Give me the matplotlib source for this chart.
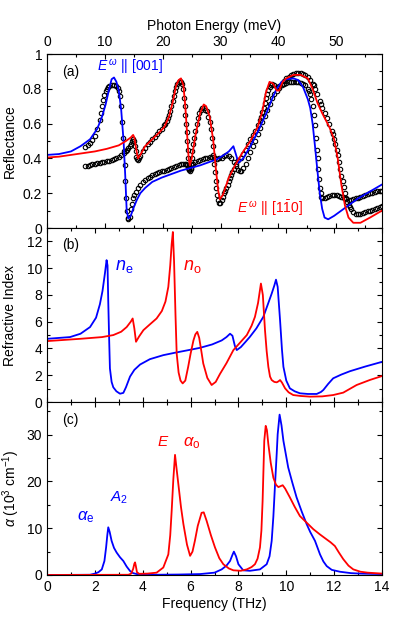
import numpy as np
import matplotlib
matplotlib.use('Agg')
import matplotlib.pyplot as plt
from matplotlib.ticker import MultipleLocator, FixedLocator

MEV_PER_THZ = 4.1357
BLUE = '#0000ff'
RED = '#ff0000'

# (a) reflectance fits, (THz, R)
fit_e_f = [0.0, 0.5, 1.0, 1.4, 1.8, 2.1, 2.3, 2.45, 2.6, 2.7, 2.8, 2.9, 3.0, 3.1, 3.2, 3.27, 3.33, 3.4,
           3.5, 3.6, 3.75, 3.9, 4.1, 4.4, 4.8, 5.2, 5.6, 6.0, 6.4, 6.8, 7.1, 7.4, 7.6, 7.79, 7.88, 8.0,
           8.2, 8.5, 8.8, 9.0, 9.2, 9.4, 9.6, 9.8, 10.0, 10.3, 10.5, 10.7, 10.9, 11.0, 11.1, 11.2, 11.3,
           11.4, 11.5, 11.6, 11.75, 12.0, 12.3, 12.7, 13.0, 13.5, 14.0]
fit_e_r = [0.42, 0.425, 0.44, 0.47, 0.51, 0.57, 0.64, 0.71, 0.80, 0.855, 0.865, 0.84, 0.79, 0.68, 0.50,
           0.30, 0.10, 0.055, 0.07, 0.11, 0.16, 0.20, 0.23, 0.265, 0.29, 0.31, 0.33, 0.345, 0.36, 0.38,
           0.395, 0.42, 0.44, 0.47, 0.43, 0.375, 0.40, 0.47, 0.55, 0.61, 0.67, 0.74, 0.80, 0.84, 0.855,
           0.86, 0.85, 0.81, 0.74, 0.69, 0.60, 0.47, 0.33, 0.20, 0.11, 0.06, 0.05, 0.07, 0.10, 0.14, 0.17,
           0.21, 0.25]

fit_o_f = [0.0, 0.5, 1.0, 1.5, 2.0, 2.5, 3.0, 3.3, 3.5, 3.6, 3.65, 3.72, 3.8, 3.9, 4.1, 4.4, 4.7, 4.9,
           5.1, 5.25, 5.4, 5.5, 5.6, 5.7, 5.78, 5.85, 5.92, 5.97, 6.05, 6.2, 6.4, 6.55, 6.65, 6.8, 6.95,
           7.05, 7.15, 7.22, 7.35, 7.6, 7.9, 8.2, 8.5, 8.8, 9.0, 9.15, 9.3, 9.45, 9.6, 9.7, 9.85, 10.0,
           10.3, 10.6, 10.9, 11.1, 11.3, 11.5, 11.8, 12.0, 12.15, 12.3, 12.45, 12.6, 12.8, 13.1, 13.5, 14.0]
fit_o_r = [0.405, 0.41, 0.42, 0.43, 0.44, 0.455, 0.475, 0.50, 0.52, 0.535, 0.52, 0.46, 0.40, 0.42,
           0.47, 0.51, 0.55, 0.58, 0.64, 0.72, 0.82, 0.85, 0.86, 0.82, 0.70, 0.55, 0.40, 0.36, 0.40,
           0.53, 0.66, 0.71, 0.70, 0.64, 0.50, 0.35, 0.22, 0.165, 0.19, 0.29, 0.37, 0.44, 0.50, 0.58,
           0.67, 0.78, 0.84, 0.83, 0.79, 0.79, 0.84, 0.86, 0.88, 0.88, 0.86, 0.80, 0.72, 0.66, 0.58,
           0.51, 0.40, 0.25, 0.13, 0.06, 0.03, 0.03, 0.06, 0.10]

# (a) measured reflectance, E || [001]
meas_e_f = [1.6, 1.7, 1.8, 1.9, 2.0, 2.1, 2.2, 2.25, 2.3, 2.35, 2.4, 2.45, 2.5, 2.55, 2.6, 2.7, 2.8,
            2.9, 2.95, 3.0, 3.05, 3.1, 3.15, 3.19, 3.22, 3.25, 3.28, 3.31, 3.34, 3.37, 3.4, 3.45, 3.5,
            3.55, 3.6, 3.65, 3.7, 3.8, 3.9, 4.0, 4.1, 4.2, 4.3, 4.4, 4.5, 4.6, 4.7, 4.8, 4.9, 5.0, 5.1,
            5.2, 5.3, 5.4, 5.5, 5.6, 5.7, 5.75, 5.8, 5.85, 5.9, 5.95, 6.0, 6.05, 6.1, 6.2, 6.3, 6.4,
            6.5, 6.6, 6.7, 6.8, 6.9, 7.0, 7.1, 7.2, 7.3, 7.4, 7.5, 7.6, 7.7, 7.8, 7.9, 8.0, 8.05, 8.1,
            8.2, 8.3, 8.4, 8.5, 8.6, 8.7, 8.8, 8.9, 9.0, 9.1, 9.2, 9.3, 9.4, 9.5, 9.6, 9.7, 9.8, 9.9,
            10.0, 10.1, 10.2, 10.3, 10.4, 10.5, 10.6, 10.7, 10.8, 10.9, 10.95, 11.0, 11.05, 11.1, 11.15,
            11.2, 11.24, 11.28, 11.31, 11.34, 11.37, 11.4, 11.43, 11.47, 11.5, 11.6, 11.7, 11.8, 11.9,
            12.0, 12.1, 12.2, 12.3, 12.4, 12.5, 12.6, 12.7, 12.8, 12.9, 13.0, 13.1, 13.2, 13.3, 13.4,
            13.5, 13.6, 13.7, 13.8, 13.9, 14.0]
meas_e_r = [0.465, 0.475, 0.49, 0.505, 0.53, 0.57, 0.62, 0.66, 0.70, 0.735, 0.765, 0.785, 0.80,
            0.81, 0.815, 0.82, 0.82, 0.815, 0.805, 0.79, 0.76, 0.70, 0.61, 0.52, 0.44, 0.36, 0.27, 0.17,
            0.10, 0.06, 0.05, 0.065, 0.11, 0.14, 0.17, 0.19, 0.205, 0.23, 0.25, 0.265, 0.275, 0.285,
            0.295, 0.305, 0.31, 0.315, 0.32, 0.325, 0.33, 0.335, 0.34, 0.345, 0.35, 0.355, 0.36, 0.365,
            0.37, 0.37, 0.365, 0.36, 0.345, 0.335, 0.345, 0.36, 0.37, 0.38, 0.385, 0.39, 0.395, 0.40,
            0.405, 0.41, 0.41, 0.40, 0.395, 0.40, 0.405, 0.415, 0.42, 0.415, 0.40, 0.38, 0.355, 0.335,
            0.33, 0.33, 0.345, 0.37, 0.40, 0.435, 0.47, 0.50, 0.54, 0.575, 0.61, 0.645, 0.68, 0.715,
            0.745, 0.77, 0.79, 0.805, 0.82, 0.83, 0.835, 0.84, 0.84, 0.84, 0.84, 0.84, 0.835, 0.83,
            0.82, 0.80, 0.79, 0.77, 0.74, 0.70, 0.65, 0.59, 0.52, 0.45, 0.40, 0.34, 0.28, 0.23, 0.20,
            0.18, 0.175, 0.175, 0.18, 0.185, 0.19, 0.19, 0.19, 0.185, 0.18, 0.17, 0.165, 0.16, 0.16,
            0.165, 0.17, 0.175, 0.18, 0.185, 0.19, 0.195, 0.20, 0.20, 0.205, 0.21, 0.21, 0.215]

# (a) measured reflectance, E || [1-10]
meas_o_f = [1.6, 1.7, 1.8, 1.9, 2.0, 2.1, 2.2, 2.3, 2.4, 2.5, 2.6, 2.7, 2.8, 2.9, 3.0, 3.1, 3.2, 3.3,
            3.35, 3.4, 3.45, 3.5, 3.55, 3.6, 3.64, 3.68, 3.71, 3.74, 3.77, 3.8, 3.85, 3.9, 4.0, 4.1,
            4.2, 4.3, 4.4, 4.5, 4.6, 4.7, 4.8, 4.9, 4.95, 5.0, 5.05, 5.1, 5.15, 5.2, 5.25, 5.3, 5.35,
            5.4, 5.45, 5.5, 5.55, 5.6, 5.64, 5.68, 5.72, 5.75, 5.78, 5.8, 5.83, 5.85, 5.88, 5.9, 5.93,
            5.95, 5.98, 6.0, 6.03, 6.05, 6.08, 6.12, 6.16, 6.2, 6.25, 6.3, 6.36, 6.42, 6.48, 6.55,
            6.62, 6.68, 6.74, 6.8, 6.84, 6.88, 6.92, 6.95, 6.98, 7.02, 7.05, 7.08, 7.12, 7.15, 7.2,
            7.25, 7.3, 7.35, 7.4, 7.45, 7.5, 7.55, 7.6, 7.65, 7.7, 7.75, 7.8, 7.9, 8.0, 8.1, 8.2, 8.3,
            8.4, 8.5, 8.6, 8.7, 8.8, 8.9, 8.95, 9.0, 9.05, 9.1, 9.15, 9.2, 9.25, 9.3, 9.35, 9.4, 9.5,
            9.6, 9.65, 9.7, 9.8, 9.9, 10.0, 10.1, 10.2, 10.3, 10.4, 10.5, 10.6, 10.7, 10.8, 10.9,
            11.0, 11.1, 11.15, 11.2, 11.3, 11.4, 11.45, 11.5, 11.6, 11.7, 11.8, 11.9, 11.95, 12.0,
            12.05, 12.1, 12.15, 12.2, 12.25, 12.3, 12.35, 12.4, 12.45, 12.5, 12.55, 12.6, 12.65, 12.7,
            12.8, 12.9, 13.0, 13.1, 13.2, 13.3, 13.4, 13.5, 13.6, 13.7, 13.8, 13.9, 14.0]
meas_o_r = [0.355, 0.357, 0.36, 0.365, 0.37, 0.372, 0.375, 0.378, 0.38, 0.383, 0.386, 0.39, 0.395,
            0.40, 0.41, 0.42, 0.43, 0.44, 0.45, 0.46, 0.47, 0.485, 0.50, 0.51, 0.50, 0.47, 0.44, 0.41,
            0.395, 0.39, 0.40, 0.415, 0.44, 0.46, 0.48, 0.495, 0.51, 0.525, 0.54, 0.555, 0.57, 0.59,
            0.60, 0.615, 0.63, 0.65, 0.675, 0.70, 0.73, 0.76, 0.785, 0.81, 0.83, 0.84, 0.845, 0.84,
            0.825, 0.80, 0.75, 0.70, 0.65, 0.60, 0.55, 0.50, 0.45, 0.40, 0.36, 0.34, 0.33, 0.34, 0.37,
            0.40, 0.44, 0.48, 0.52, 0.56, 0.60, 0.63, 0.66, 0.68, 0.69, 0.69, 0.68, 0.67, 0.64, 0.61,
            0.57, 0.52, 0.47, 0.42, 0.37, 0.32, 0.27, 0.23, 0.19, 0.16, 0.145, 0.145, 0.16, 0.18, 0.20,
            0.215, 0.23, 0.25, 0.27, 0.29, 0.305, 0.32, 0.34, 0.37, 0.39, 0.40, 0.425, 0.45, 0.48,
            0.51, 0.535, 0.56, 0.59, 0.62, 0.64, 0.665, 0.69, 0.72, 0.75, 0.77, 0.795, 0.81, 0.82,
            0.825, 0.82, 0.81, 0.81, 0.815, 0.83, 0.845, 0.86, 0.87, 0.88, 0.885, 0.89, 0.89, 0.89,
            0.885, 0.88, 0.865, 0.85, 0.83, 0.82, 0.80, 0.77, 0.73, 0.71, 0.69, 0.66, 0.63, 0.60, 0.56,
            0.54, 0.51, 0.48, 0.45, 0.42, 0.38, 0.34, 0.30, 0.27, 0.235, 0.20, 0.175, 0.15, 0.135,
            0.12, 0.11, 0.09, 0.08, 0.08, 0.08, 0.085, 0.09, 0.095, 0.10, 0.105, 0.11, 0.115, 0.12,
            0.125]

# (b) refractive index
n_e_f = [0.0, 0.96, 1.4, 1.8, 2.05, 2.21, 2.32, 2.42, 2.49, 2.53, 2.56, 2.6, 2.63, 2.7, 2.77, 2.9, 3.05,
         3.19, 3.3, 3.47, 3.65, 3.89, 4.3, 4.86, 5.4, 5.98, 6.4, 6.9, 7.3, 7.5, 7.65, 7.75, 7.85, 7.93,
         8.1, 8.3, 8.48, 8.75, 9.04, 9.25, 9.39, 9.5, 9.57, 9.64, 9.74, 9.82, 9.88, 10.0, 10.15, 10.35,
         10.57, 10.9, 11.27, 11.45, 11.55, 11.75, 11.96, 12.3, 12.66, 13.3, 14.0]
n_e_v = [4.72, 4.85, 5.1, 5.6, 6.3, 7.3, 8.3, 9.6, 10.6, 10.2, 7.5, 4.5, 2.5, 1.5, 1.1, 0.8, 0.62,
         0.68, 1.1, 1.9, 2.4, 2.8, 3.2, 3.5, 3.7, 3.9, 4.05, 4.3, 4.6, 4.85, 5.1, 4.95, 4.2, 3.88,
         4.1, 4.5, 4.87, 5.5, 6.36, 7.4, 8.1, 8.7, 9.14, 8.6, 6.1, 3.9, 2.63, 1.6, 1.02, 0.8,
         0.65, 0.6, 0.6, 0.75, 0.9, 1.35, 1.77, 2.05, 2.3, 2.65, 3.0]

n_o_f = [0.0, 1.38, 2.3, 2.77, 3.1, 3.33, 3.5, 3.58, 3.65, 3.72, 3.85, 4.03, 4.3, 4.58, 4.8, 4.95, 5.07,
         5.15, 5.21, 5.26, 5.31, 5.37, 5.42, 5.5, 5.58, 5.67, 5.78, 5.9, 6.0, 6.12, 6.2, 6.28, 6.36,
         6.45, 6.53, 6.7, 6.88, 7.05, 7.23, 7.5, 7.79, 8.1, 8.35, 8.55, 8.69, 8.82, 8.94, 9.02, 9.11,
         9.18, 9.25, 9.32, 9.39, 9.5, 9.6, 9.68, 9.74, 9.82, 9.95, 10.1, 10.29, 10.6, 10.99, 11.5,
         11.96, 12.38, 12.94, 13.5, 14.0]
n_o_v = [4.55, 4.72, 4.85, 5.0, 5.25, 5.6, 6.0, 6.24, 5.5, 4.5, 4.9, 5.37, 5.8, 6.24, 6.8, 7.5, 8.6,
         10.2, 11.8, 12.7, 10.5, 6.5, 3.6, 2.2, 1.6, 1.39, 1.6, 2.63, 3.6, 4.6, 5.05, 5.24, 4.8,
         3.8, 2.88, 1.8, 1.27, 1.5, 2.1, 2.9, 3.88, 4.5, 5.0, 5.7, 6.36, 7.4, 8.85, 8.0, 5.37,
         3.8, 2.63, 1.9, 1.64, 1.5, 1.47, 1.55, 1.64, 1.45, 1.02, 0.72, 0.52, 0.45, 0.4, 0.42,
         0.52, 0.7, 1.27, 1.65, 1.94]

# (c) absorption (10^3 cm^-1)
a_e_f = [0.0, 1.8, 2.0, 2.15, 2.29, 2.4, 2.47, 2.52, 2.56, 2.62, 2.7, 2.8, 2.91, 3.05, 3.19, 3.33,
         3.47, 3.6, 3.75, 4.5, 5.5, 6.4, 7.0, 7.3, 7.5, 7.65, 7.75, 7.81, 7.9, 8.0, 8.2, 8.48, 8.9,
         9.18, 9.3, 9.39, 9.46, 9.53, 9.6, 9.64, 9.72, 9.8, 9.88, 10.08, 10.25, 10.43, 10.65, 10.85,
         11.0, 11.2, 11.41, 11.55, 11.69, 11.9, 12.24, 12.7, 13.08, 14.0]
a_e_v = [0.0, 0.05, 0.3, 0.6, 1.2, 3.0, 5.9, 8.5, 10.2, 9.2, 7.3, 5.8, 4.8, 3.8, 3.0, 1.8, 0.86,
         0.4, 0.2, 0.05, 0.1, 0.2, 0.5, 1.2, 2.0, 3.0, 4.3, 5.0, 4.0, 2.3, 1.0, 0.9, 1.2, 2.3, 4.0,
         7.3, 12.5, 19.4, 26.0, 30.1, 34.3, 32.0, 28.7, 23.0, 19.8, 16.6, 13.5, 10.9, 9.2, 7.3, 4.4,
         2.9, 1.9, 1.1, 0.7, 0.4, 0.3, 0.2]

a_o_f = [0.0, 3.4, 3.52, 3.6, 3.65, 3.68, 3.71, 3.76, 3.85, 4.2, 4.58, 4.86, 5.07, 5.15, 5.21, 5.28,
         5.35, 5.42, 5.49, 5.6, 5.7, 5.85, 5.98, 6.08, 6.18, 6.3, 6.46, 6.55, 6.67, 6.85, 7.02, 7.2,
         7.37, 7.6, 7.79, 8.1, 8.35, 8.55, 8.69, 8.8, 8.9, 8.96, 9.01, 9.08, 9.14, 9.19, 9.25, 9.35,
         9.46, 9.57, 9.67, 9.76, 9.85, 9.95, 10.15, 10.35, 10.57, 10.85, 11.13, 11.4, 11.69, 11.85,
         12.03, 12.2, 12.38, 12.6, 12.8, 13.1, 13.4, 14.0]
a_o_v = [0.0, 0.05, 0.3, 1.3, 2.4, 2.7, 2.0, 0.6, 0.25, 0.3, 0.5, 1.6, 4.4, 8.5, 13.7, 20.5,
         25.7, 22.5, 19.4, 14.5, 10.9, 6.5, 4.1, 5.0, 7.3, 10.5, 13.3, 13.4, 11.6, 8.5, 5.9, 3.6,
         2.3, 1.4, 1.0, 0.9, 1.2, 1.7, 2.3, 3.5, 5.9, 9.5, 15.8, 28.7, 31.9, 31.0, 28.0, 24.0,
         20.8, 19.3, 18.8, 19.0, 19.2, 18.5, 16.6, 14.6, 12.6, 11.2, 9.8, 8.7, 7.6, 7.0, 6.2, 4.8,
         3.4, 2.0, 1.2, 0.7, 0.5, 0.3]

plt.rcParams['font.family'] = ['Liberation Sans', 'DejaVu Sans']
plt.rcParams['font.size'] = 10
plt.rcParams['mathtext.fontset'] = 'custom'
plt.rcParams['mathtext.rm'] = 'Liberation Sans'
plt.rcParams['mathtext.it'] = 'Liberation Sans:italic'
plt.rcParams['mathtext.bf'] = 'Liberation Sans:bold'
plt.rcParams['xtick.direction'] = 'in'
plt.rcParams['ytick.direction'] = 'in'
plt.rcParams['xtick.major.size'] = 3.6
plt.rcParams['ytick.major.size'] = 3.6
plt.rcParams['xtick.minor.size'] = 2.2
plt.rcParams['ytick.minor.size'] = 2.2
plt.rcParams['xtick.major.width'] = 0.8
plt.rcParams['ytick.major.width'] = 0.8
plt.rcParams['xtick.minor.width'] = 0.8
plt.rcParams['ytick.minor.width'] = 0.8
plt.rcParams['axes.linewidth'] = 0.8

W, H = 399, 618
fig = plt.figure(figsize=(W / 100, H / 100), dpi=100)
left, right = 47, 382


def box(top, bottom):
    return [left / W, 1 - bottom / H, (right - left) / W, (bottom - top) / H]


ax_a = fig.add_axes(box(54, 228))
ax_b = fig.add_axes(box(228, 402))
ax_c = fig.add_axes(box(402, 575))

lw = 1.3
# panel (a)
mk = dict(ls='none', marker='o', mfc='none', mec='k', ms=3.2, mew=0.8)
ax_a.plot(meas_e_f, meas_e_r, **mk)
ax_a.plot(meas_o_f, meas_o_r, **mk)
ax_a.plot(fit_e_f, fit_e_r, color=BLUE, lw=lw)
ax_a.plot(fit_o_f, fit_o_r, color=RED, lw=lw)
ax_a.set_xlim(0, 14)
ax_a.set_ylim(0, 1)
ax_a.set_yticks([0, 0.2, 0.4, 0.6, 0.8, 1.0])
ax_a.set_yticklabels(['0', '0.2', '0.4', '0.6', '0.8', '1'])
ax_a.yaxis.set_minor_locator(MultipleLocator(0.1))
mev_major = np.array([0, 10, 20, 30, 40, 50])
mev_minor = np.array([5, 15, 25, 35, 45, 55])
ax_a.xaxis.set_major_locator(FixedLocator(mev_major / MEV_PER_THZ))
ax_a.xaxis.set_minor_locator(FixedLocator(mev_minor / MEV_PER_THZ))
ax_a.tick_params(which='both', labelbottom=False, top=False, right=True)
ax_a.set_ylabel('Reflectance')
sec = ax_a.secondary_xaxis('top', functions=(lambda f: f * MEV_PER_THZ, lambda e: e / MEV_PER_THZ))
sec.xaxis.set_major_locator(FixedLocator(mev_major))
sec.xaxis.set_minor_locator(FixedLocator(mev_minor))
sec.tick_params(which='both', direction='in')
sec.set_xlabel('Photon Energy (meV)')
ax_a.text(0.045, 0.897, '(a)', transform=ax_a.transAxes, va='center', fontsize=10)
ax_a.text(0.149, 0.925, r'$E^{\,\omega}$ || [001]', transform=ax_a.transAxes, va='center',
          color=BLUE, fontsize=10)
ax_a.text(0.567, 0.115, r'$E^{\,\omega}$ || [1$\bar{1}$0]', transform=ax_a.transAxes, va='center',
          color=RED, fontsize=10)

# panel (b)
ax_b.plot(n_e_f, n_e_v, color=BLUE, lw=lw)
ax_b.plot(n_o_f, n_o_v, color=RED, lw=lw)
ax_b.set_xlim(0, 14)
ax_b.set_ylim(0, 13)
ax_b.yaxis.set_major_locator(MultipleLocator(2))
ax_b.yaxis.set_minor_locator(MultipleLocator(1))
ax_b.xaxis.set_major_locator(MultipleLocator(2))
ax_b.xaxis.set_minor_locator(MultipleLocator(1))
ax_b.tick_params(which='both', labelbottom=False, top=True, right=True)
ax_b.set_ylabel('Refractive Index')
ax_b.text(0.045, 0.902, '(b)', transform=ax_b.transAxes, va='center', fontsize=10)
ax_b.text(0.203, 0.776, r'$n_{\rm e}$', transform=ax_b.transAxes, va='center', color=BLUE, fontsize=13)
ax_b.text(0.406, 0.776, r'$n_{\rm o}$', transform=ax_b.transAxes, va='center', color=RED, fontsize=13)

# panel (c)
ax_c.plot(a_e_f, a_e_v, color=BLUE, lw=lw)
ax_c.plot(a_o_f, a_o_v, color=RED, lw=lw)
ax_c.set_xlim(0, 14)
ax_c.set_ylim(0, 37)
ax_c.yaxis.set_major_locator(MultipleLocator(10))
ax_c.yaxis.set_minor_locator(MultipleLocator(5))
ax_c.xaxis.set_major_locator(MultipleLocator(2))
ax_c.xaxis.set_minor_locator(MultipleLocator(1))
ax_c.tick_params(which='both', top=True, right=True)
ax_c.set_ylabel(r'$\alpha$ (10$^3$ cm$^{-1}$)')
ax_c.set_xlabel('Frequency (THz)')
ax_c.text(0.045, 0.896, '(c)', transform=ax_c.transAxes, va='center', fontsize=10)
ax_c.text(0.09, 0.335, r'$\alpha_{\rm e}$', transform=ax_c.transAxes, va='center', color=BLUE, fontsize=12)
ax_c.text(0.188, 0.445, r'$A_{\rm 2}$', transform=ax_c.transAxes, va='center', color=BLUE, fontsize=11)
ax_c.text(0.328, 0.769, r'$E$', transform=ax_c.transAxes, va='center', color=RED, fontsize=11)
ax_c.text(0.406, 0.763, r'$\alpha_{\rm o}$', transform=ax_c.transAxes, va='center', color=RED, fontsize=12)

for ax in (ax_a, ax_b):
    ax.yaxis.set_label_coords(-0.09, 0.5)
ax_c.yaxis.set_label_coords(-0.075, 0.5)
ax_c.xaxis.set_label_coords(0.5, -0.13)

fig.savefig('out.png', dpi=100)
